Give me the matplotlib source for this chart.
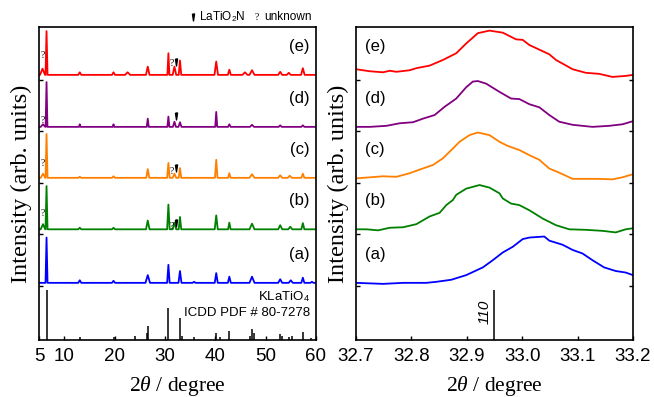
import numpy as np
import matplotlib.pyplot as plt

plt.rcParams['font.family'] = ['Liberation Sans', 'DejaVu Sans']
plt.rcParams['mathtext.fontset'] = 'custom'
plt.rcParams['mathtext.rm'] = 'Liberation Sans'
plt.rcParams['mathtext.it'] = 'Liberation Serif:italic'

# ---- left panel: wide-range XRD, peak lists (2theta, height, half width) ----
labels = ['(a)', '(b)', '(c)', '(d)', '(e)']
colors = ['#0000ff', '#008000', '#ff8000', '#800080', '#ff0000']
baselines = [1.06, 2.10, 3.10, 4.09, 5.10]

pos_a = [6.5, 13.1, 19.8, 26.6, 30.7, 33.0, 35.8, 40.2, 42.8, 47.3, 52.9, 55.0, 57.4, 59.2]
h_a = [0.88, 0.05, 0.04, 0.15, 0.35, 0.23, 0.02, 0.19, 0.12, 0.12, 0.07, 0.05, 0.10, 0.02]
w_a = [0.2, 0.3, 0.3, 0.45, 0.25, 0.3, 0.3, 0.3, 0.3, 0.5, 0.4, 0.4, 0.3, 0.3]

pos_b = [5.8, 6.5, 13.1, 19.8, 26.6, 30.7, 31.9, 33.0, 40.2, 42.8, 47.3, 52.9, 54.9, 57.4]
h_b = [0.10, 0.84, 0.03, 0.03, 0.17, 0.48, 0.13, 0.24, 0.27, 0.13, 0.11, 0.08, 0.05, 0.12]
w_b = [0.45, 0.2, 0.3, 0.3, 0.35, 0.25, 0.35, 0.25, 0.3, 0.25, 0.5, 0.4, 0.4, 0.3]

pos_c = [5.8, 6.5, 13.1, 19.8, 26.6, 30.7, 31.9, 33.0, 40.2, 42.8, 47.3, 52.9, 54.8, 57.4]
h_c = [0.08, 0.85, 0.02, 0.03, 0.17, 0.29, 0.08, 0.19, 0.35, 0.09, 0.07, 0.05, 0.04, 0.08]
w_c = [0.45, 0.2, 0.3, 0.3, 0.3, 0.25, 0.35, 0.25, 0.25, 0.25, 0.5, 0.4, 0.4, 0.3]

pos_d = [5.8, 6.5, 13.1, 19.8, 26.6, 30.7, 31.9, 33.0, 40.2, 42.8, 47.3, 52.9, 57.4]
h_d = [0.05, 0.87, 0.05, 0.05, 0.16, 0.20, 0.10, 0.09, 0.29, 0.05, 0.04, 0.03, 0.03]
w_d = [0.45, 0.18, 0.15, 0.15, 0.2, 0.2, 0.3, 0.3, 0.2, 0.25, 0.4, 0.3, 0.3]

pos_e = [5.7, 6.5, 13.1, 19.8, 22.6, 26.6, 30.7, 31.9, 33.0, 40.2, 42.8, 45.9, 47.3, 52.9, 54.6, 57.4]
h_e = [0.12, 0.85, 0.05, 0.05, 0.05, 0.16, 0.42, 0.16, 0.28, 0.26, 0.10, 0.05, 0.09, 0.06, 0.04, 0.13]
w_e = [0.5, 0.2, 0.3, 0.3, 0.5, 0.35, 0.2, 0.35, 0.25, 0.35, 0.3, 0.5, 0.5, 0.4, 0.4, 0.35]

peaks = [(pos_a, h_a, w_a), (pos_b, h_b, w_b), (pos_c, h_c, w_c),
         (pos_d, h_d, w_d), (pos_e, h_e, w_e)]

# KLaTiO4 reference, ICDD PDF # 80-7278 (stick tops)
ref_pos = [6.5, 13.1, 19.8, 24.1, 26.4, 26.7, 30.7, 33.0, 33.4, 35.8, 40.2, 40.9,
           42.8, 47.0, 47.3, 47.6, 52.9, 53.3, 54.6, 55.2, 57.5, 59.0]
ref_top = [0.92, 0.0, 0.0, 0.02, 0.08, 0.22, 0.57, 0.37, 0.02, 0.0, 0.08, 0.0,
           0.12, 0.03, 0.17, 0.08, 0.06, 0.02, 0.0, 0.03, 0.10, -0.01]

# "?" and LaTiO2N marks
q_low = [None, 2.41, 3.38, 4.22, 5.48]
q_mid = [None, 2.16, 3.22, None, 5.32]
wedge_y = [None, 2.22, 3.29, 4.30, 5.35]

# ---- right panel: zoom on 110 reflection ----
x_a = [32.700, 32.725, 32.749, 32.785, 32.827, 32.845, 32.872, 32.899, 32.929, 32.947, 32.965, 32.983,
       33.001, 33.013, 33.040, 33.049, 33.073, 33.091, 33.109, 33.127, 33.148, 33.169, 33.187, 33.200]
y_a = [1.06, 1.05, 1.04, 1.06, 1.06, 1.08, 1.12, 1.21, 1.36, 1.50, 1.65, 1.76,
       1.91, 1.94, 1.96, 1.88, 1.80, 1.70, 1.63, 1.50, 1.36, 1.29, 1.26, 1.21]
x_b = [32.700, 32.719, 32.740, 32.761, 32.785, 32.809, 32.833, 32.851, 32.863, 32.875, 32.881, 32.899,
       32.923, 32.941, 32.959, 32.965, 32.980, 32.995, 33.013, 33.037, 33.061, 33.085, 33.115, 33.145,
       33.169, 33.187, 33.200]
y_b = [2.10, 2.10, 2.08, 2.13, 2.14, 2.20, 2.35, 2.42, 2.57, 2.67, 2.77, 2.89,
       2.96, 2.91, 2.80, 2.70, 2.60, 2.57, 2.47, 2.31, 2.18, 2.10, 2.09, 2.07,
       2.04, 2.10, 2.12]
x_c = [32.700, 32.725, 32.749, 32.773, 32.797, 32.815, 32.839, 32.857, 32.875, 32.887, 32.905, 32.920,
       32.941, 32.959, 32.974, 32.995, 33.013, 33.031, 33.049, 33.067, 33.091, 33.115, 33.139, 33.163,
       33.181, 33.200]
y_c = [3.09, 3.11, 3.13, 3.12, 3.19, 3.26, 3.35, 3.48, 3.67, 3.80, 3.93, 3.98,
       3.93, 3.80, 3.72, 3.64, 3.54, 3.45, 3.28, 3.20, 3.08, 3.08, 3.08, 3.07,
       3.11, 3.17]
x_d = [32.700, 32.725, 32.755, 32.779, 32.803, 32.821, 32.842, 32.860, 32.881, 32.899, 32.911, 32.920,
       32.935, 32.959, 32.980, 32.995, 33.013, 33.031, 33.049, 33.067, 33.091, 33.127, 33.157, 33.181,
       33.200]
y_d = [4.09, 4.09, 4.11, 4.16, 4.18, 4.25, 4.32, 4.48, 4.64, 4.86, 4.97, 4.98,
       4.93, 4.77, 4.64, 4.63, 4.53, 4.47, 4.32, 4.19, 4.13, 4.09, 4.11, 4.14,
       4.20]
x_e = [32.700, 32.725, 32.749, 32.761, 32.773, 32.797, 32.809, 32.833, 32.857, 32.881, 32.899, 32.920,
       32.941, 32.965, 32.989, 33.001, 33.013, 33.031, 33.049, 33.061, 33.091, 33.115, 33.139, 33.163,
       33.187, 33.200]
y_e = [5.21, 5.17, 5.15, 5.18, 5.16, 5.19, 5.23, 5.28, 5.39, 5.52, 5.71, 5.91,
       5.96, 5.92, 5.79, 5.78, 5.68, 5.59, 5.50, 5.39, 5.21, 5.14, 5.12, 5.06,
       5.08, 5.10]
zoom_x = [x_a, x_b, x_c, x_d, x_e]
zoom_y = [y_a, y_b, y_c, y_d, y_e]
ref110_pos = 32.95
ref110_top = 0.92


def pattern(base, pos, h, w, x0=5.0, x1=60.0):
    xs, ys = [x0], [base]
    for p, hh, ww in zip(pos, h, w):
        xs += [p - ww, p, p + ww]
        ys += [base, base + hh, base]
    xs.append(x1)
    ys.append(base)
    return xs, ys


wedge = [(-0.3, 1.0), (0.3, 1.0), (0.0, -1.0), (-0.3, 1.0)]
serif = 'Liberation Serif'

fig = plt.figure(figsize=(6.54, 3.97), dpi=100)
ax1 = fig.add_axes([0.0596, 0.1436, 0.4235, 0.7884])
ax2 = fig.add_axes([0.5443, 0.1436, 0.4235, 0.7884])

# left panel
for i in range(5):
    xs, ys = pattern(baselines[i], *peaks[i])
    ax1.plot(xs, ys, color=colors[i], lw=1.3)
    ax1.text(58.8, baselines[i] + 0.55, labels[i], ha='right', va='center', fontsize=12)
    if q_low[i] is not None:
        ax1.text(5.65, q_low[i], '?', ha='center', va='center', fontsize=7, family=serif)
    if q_mid[i] is not None:
        ax1.text(31.45, q_mid[i], '?', ha='center', va='center', fontsize=7, family=serif)
    if wedge_y[i] is not None:
        ax1.plot(32.2, wedge_y[i], marker=wedge, color='black', ms=5, ls='none')

ax1.vlines(ref_pos, -0.05, ref_top, color='black', lw=1.1)
ax1.text(58.8, 0.79, 'KLaTiO$_4$', ha='right', va='center', fontsize=9.5)
ax1.text(58.8, 0.47, 'ICDD PDF # 80-7278', ha='right', va='center', fontsize=9.5)

ax1.set_xlim(5, 60)
ax1.set_xticks([5, 10, 20, 30, 40, 50, 60])

# right panel
for i in range(5):
    ax2.plot(zoom_x[i], zoom_y[i], color=colors[i], lw=1.3)
    ax2.text(32.716, baselines[i] + 0.55, labels[i], ha='left', va='center', fontsize=12)
ax2.vlines(ref110_pos, -0.05, ref110_top, color='black', lw=1.1)
ax2.text(ref110_pos - 0.017, 0.49, '110', rotation=90, ha='center', va='center',
         fontsize=11, fontstyle='italic')
ax2.set_xlim(32.7, 33.2)
ax2.set_xticks([32.7, 32.8, 32.9, 33.0, 33.1, 33.2])
ax2.set_xticklabels(['32.7', '32.8', '32.9', '33.0', '33.1', '33.2'])

for ax in (ax1, ax2):
    ax.set_ylim(-0.05, 6.03)
    ax.set_yticks([1, 2, 3, 4, 5])
    ax.set_yticklabels([])
    ax.tick_params(direction='in', length=3, width=1, labelsize=13.5, pad=6)
    ax.set_xlabel(r'2$\theta$ / degree', family=serif, fontsize=15.5)
    ax.xaxis.set_label_coords(0.5, -0.108)
    ax.set_ylabel('Intensity (arb. units)', family=serif, fontsize=17.5)
    ax.yaxis.set_label_coords(-0.025, 0.5)
    for s in ax.spines.values():
        s.set_linewidth(1.2)
ax2.tick_params(axis='y', right=True)

# legend for marks
fig.add_artist(plt.Line2D([192.7 / 654], [1 - 17 / 397], marker=wedge, color='black',
                          ms=5, ls='none', transform=fig.transFigure))
fig.text(199 / 654, 1 - 17 / 397, 'LaTiO$_2$N', ha='left', va='center', fontsize=8.5)
fig.text(256.7 / 654, 1 - 17 / 397, '?', ha='center', va='center', fontsize=7, family=serif)
fig.text(264 / 654, 1 - 17 / 397, 'unknown', ha='left', va='center', fontsize=8.5)

fig.savefig('out.png', dpi=100)
